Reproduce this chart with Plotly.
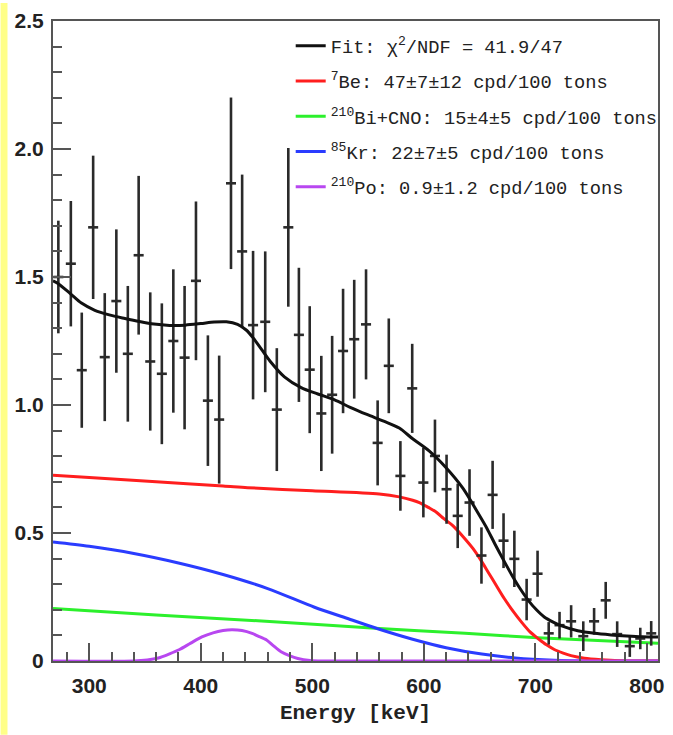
import plotly.graph_objects as go

# ---- measured spectrum (bin centre in keV, rate, symmetric error) ----
energy = [272.3, 283.5, 293.3, 303.5, 313.9, 324.3, 334.6, 344.3, 354.7, 365.1,
          375.4, 385.5, 395.7, 406.4, 416.5, 427.1, 437.1, 446.9, 457.8, 468.2,
          478.5, 488.0, 497.7, 508.1, 517.8, 527.6, 537.6, 548.2, 558.6, 568.6,
          579.0, 589.6, 599.6, 610.0, 620.4, 630.4, 641.0, 651.7, 661.7, 671.5,
          681.2, 692.2, 702.0, 712.0, 721.7, 732.1, 743.0, 752.7, 763.1, 773.4,
          784.7, 794.1, 803.9]
rate = [1.500, 1.552, 1.136, 1.694, 1.187, 1.406, 1.200, 1.585, 1.170, 1.122,
        1.250, 1.185, 1.485, 1.017, 0.943, 1.866, 1.600, 1.312, 1.325, 0.982,
        1.694, 1.274, 1.138, 0.967, 1.040, 1.211, 1.257, 1.315, 0.852, 1.153,
        0.723, 1.065, 0.697, 0.801, 0.671, 0.567, 0.619, 0.412, 0.649, 0.470,
        0.399, 0.240, 0.341, 0.108, 0.140, 0.155, 0.097, 0.155, 0.237, 0.105,
        0.058, 0.088, 0.108]
rate_err = [0.220, 0.245, 0.225, 0.280, 0.250, 0.280, 0.265, 0.310, 0.270, 0.275,
            0.280, 0.280, 0.310, 0.255, 0.250, 0.335, 0.300, 0.290, 0.275, 0.240,
            0.310, 0.262, 0.248, 0.225, 0.230, 0.243, 0.232, 0.215, 0.166, 0.185,
            0.136, 0.174, 0.136, 0.142, 0.135, 0.126, 0.130, 0.110, 0.133, 0.107,
            0.110, 0.081, 0.090, 0.044, 0.052, 0.063, 0.058, 0.052, 0.072, 0.050,
            0.042, 0.042, 0.048]

# ---- fitted model and its components (sampled along energy) ----
fit_e = [267.5, 272, 283, 293, 305, 318, 332, 345, 358, 372, 386, 400, 412, 423,
         433, 441, 447, 455, 462, 475, 490, 505, 520, 534, 549, 564, 578, 590,
         605, 620, 635, 649, 657, 664, 672, 679, 686, 694, 701, 708, 716, 723,
         738, 753, 768, 782, 796, 810]
fit_v = [1.485, 1.475, 1.435, 1.398, 1.370, 1.352, 1.338, 1.326, 1.316, 1.311,
         1.312, 1.318, 1.324, 1.325, 1.315, 1.292, 1.262, 1.214, 1.172, 1.110,
         1.068, 1.043, 1.020, 0.991, 0.963, 0.937, 0.910, 0.868, 0.820, 0.755,
         0.675, 0.575, 0.515, 0.455, 0.390, 0.335, 0.285, 0.235, 0.200, 0.172,
         0.152, 0.138, 0.118, 0.108, 0.102, 0.098, 0.095, 0.094]

be7_e = [267.5, 300, 360, 420, 442, 500, 560, 578, 590, 596, 604, 611, 618, 626,
         637, 644, 651, 658, 665, 672, 680, 688, 695, 703, 710, 717, 725, 732,
         744, 759, 775, 790, 810]
be7_v = [0.726, 0.717, 0.700, 0.684, 0.677, 0.665, 0.652, 0.641, 0.628, 0.619,
         0.600, 0.582, 0.556, 0.529, 0.477, 0.440, 0.395, 0.345, 0.295, 0.245,
         0.195, 0.150, 0.115, 0.086, 0.063, 0.045, 0.031, 0.021, 0.011, 0.005,
         0.001, 0.0, 0.0]

bicno_e = [267.5, 360, 451, 560, 637, 702, 810]
bicno_v = [0.205, 0.180, 0.157, 0.127, 0.108, 0.091, 0.069]

kr85_e = [267.5, 300, 340, 380, 420, 460, 502, 531, 558, 590, 620, 652, 682, 717,
          750, 810]
kr85_v = [0.465, 0.448, 0.420, 0.383, 0.338, 0.283, 0.210, 0.167, 0.127, 0.085,
          0.052, 0.027, 0.012, 0.003, 0.0, 0.0]

po210_e = [267.5, 340, 352, 362, 372, 381, 391, 401, 411, 420, 428, 437, 446,
           451, 459, 465, 472, 480, 487, 498, 510, 810]
po210_v = [0.0, 0.0, 0.004, 0.012, 0.028, 0.045, 0.070, 0.094, 0.110, 0.119,
           0.122, 0.119, 0.108, 0.098, 0.082, 0.060, 0.036, 0.020, 0.010, 0.002,
           0.0, 0.0]

legend_names = [
    "Fit: \u03c7<sup>2</sup>/NDF = 41.9/47",
    "<sup>7</sup>Be: 47\u00b17\u00b112 cpd/100 tons",
    "<sup>210</sup>Bi+CNO: 15\u00b14\u00b15 cpd/100 tons",
    "<sup>85</sup>Kr: 22\u00b17\u00b15 cpd/100 tons",
    "<sup>210</sup>Po: 0.9\u00b11.2 cpd/100 tons",
]

y_tickvals = [0, 0.5, 1.0, 1.5, 2.0, 2.5]
y_ticktext = ["0", "0.5", "1.0", "1.5", "2.0", "2.5"]
x_tickvals = [300, 400, 500, 600, 700, 800]

AXIS_GREY = "#555555"
TICK_FONT = dict(family="Liberation Sans Narrow, Liberation Sans, Arial", size=21,
                 color="#222222", weight="bold")
MONO = "Liberation Mono, DejaVu Sans Mono, monospace"

fig = go.Figure()


def curve(x, y, name, color, rank, group):
    fig.add_trace(go.Scatter(
        x=x, y=y, mode="lines", name=name,
        line=dict(color=color, width=3, shape="spline", smoothing=0.8),
        legendrank=rank, legendgroup=group,
    ))


curve(bicno_e, bicno_v, legend_names[2], "#2cf02c", 3, "g3")
curve(kr85_e, kr85_v, legend_names[3], "#2a3cff", 4, "g4")
curve(be7_e, be7_v, legend_names[1], "#ff1e1e", 2, "g2")
curve(po210_e, po210_v, legend_names[4], "#b847f0", 5, "g5")

fig.add_trace(go.Scatter(
    x=energy, y=rate, mode="markers",
    marker=dict(size=1, color="#2a2a2a"),
    error_y=dict(type="data", array=rate_err, thickness=2.6, width=0, color="#2a2a2a"),
    error_x=dict(type="constant", value=4.5, thickness=2.6, width=0, color="#2a2a2a"),
    showlegend=False, hoverinfo="skip",
))

curve(fit_e, fit_v, legend_names[0], "#111111", 1, "g1")

fig.update_xaxes(
    range=[267.5, 810], showline=True, linecolor=AXIS_GREY, linewidth=2, mirror=True,
    showgrid=False, zeroline=False,
    tickmode="array", tickvals=x_tickvals,
    ticks="inside", ticklen=18, tickwidth=2, tickcolor=AXIS_GREY,
    minor=dict(tickmode="linear", tick0=300, dtick=20, ticks="inside", ticklen=9,
               tickwidth=2, tickcolor=AXIS_GREY, showgrid=False),
    tickfont=TICK_FONT, ticklabelstandoff=5,
    title=dict(text="Energy [keV]", standoff=8,
               font=dict(family=MONO, size=21, color="#222222", weight="bold")),
)
fig.update_yaxes(
    range=[0, 2.5], showline=True, linecolor=AXIS_GREY, linewidth=2, mirror=True,
    showgrid=False, zeroline=False,
    tickmode="array", tickvals=y_tickvals, ticktext=y_ticktext,
    ticks="inside", ticklen=18, tickwidth=2, tickcolor=AXIS_GREY,
    minor=dict(tickmode="linear", tick0=0, dtick=0.1, ticks="inside", ticklen=9,
               tickwidth=2, tickcolor=AXIS_GREY, showgrid=False),
    tickfont=TICK_FONT, ticklabelstandoff=3,
)

# pale yellow strip along the left edge of the page
fig.add_shape(type="rect", xref="paper", yref="paper",
              x0=-53 / 611.6, x1=-46 / 611.6, y0=-74 / 643, y1=1 + 18 / 643,
              fillcolor="#ffff88", line=dict(width=0), layer="below")

fig.update_layout(
    width=673, height=735,
    margin=dict(l=53, r=9, t=18, b=74),
    plot_bgcolor="white", paper_bgcolor="white",
    showlegend=True,
    legend=dict(x=(293 - 52.7) / 611.6, xanchor="left", y=(661 - 24) / 643, yanchor="top",
                bgcolor="rgba(0,0,0,0)", borderwidth=0, itemwidth=30,
                tracegroupgap=8,
                font=dict(family=MONO, size=18.7, color="#222222")),
)

fig.write_html("out.html")
